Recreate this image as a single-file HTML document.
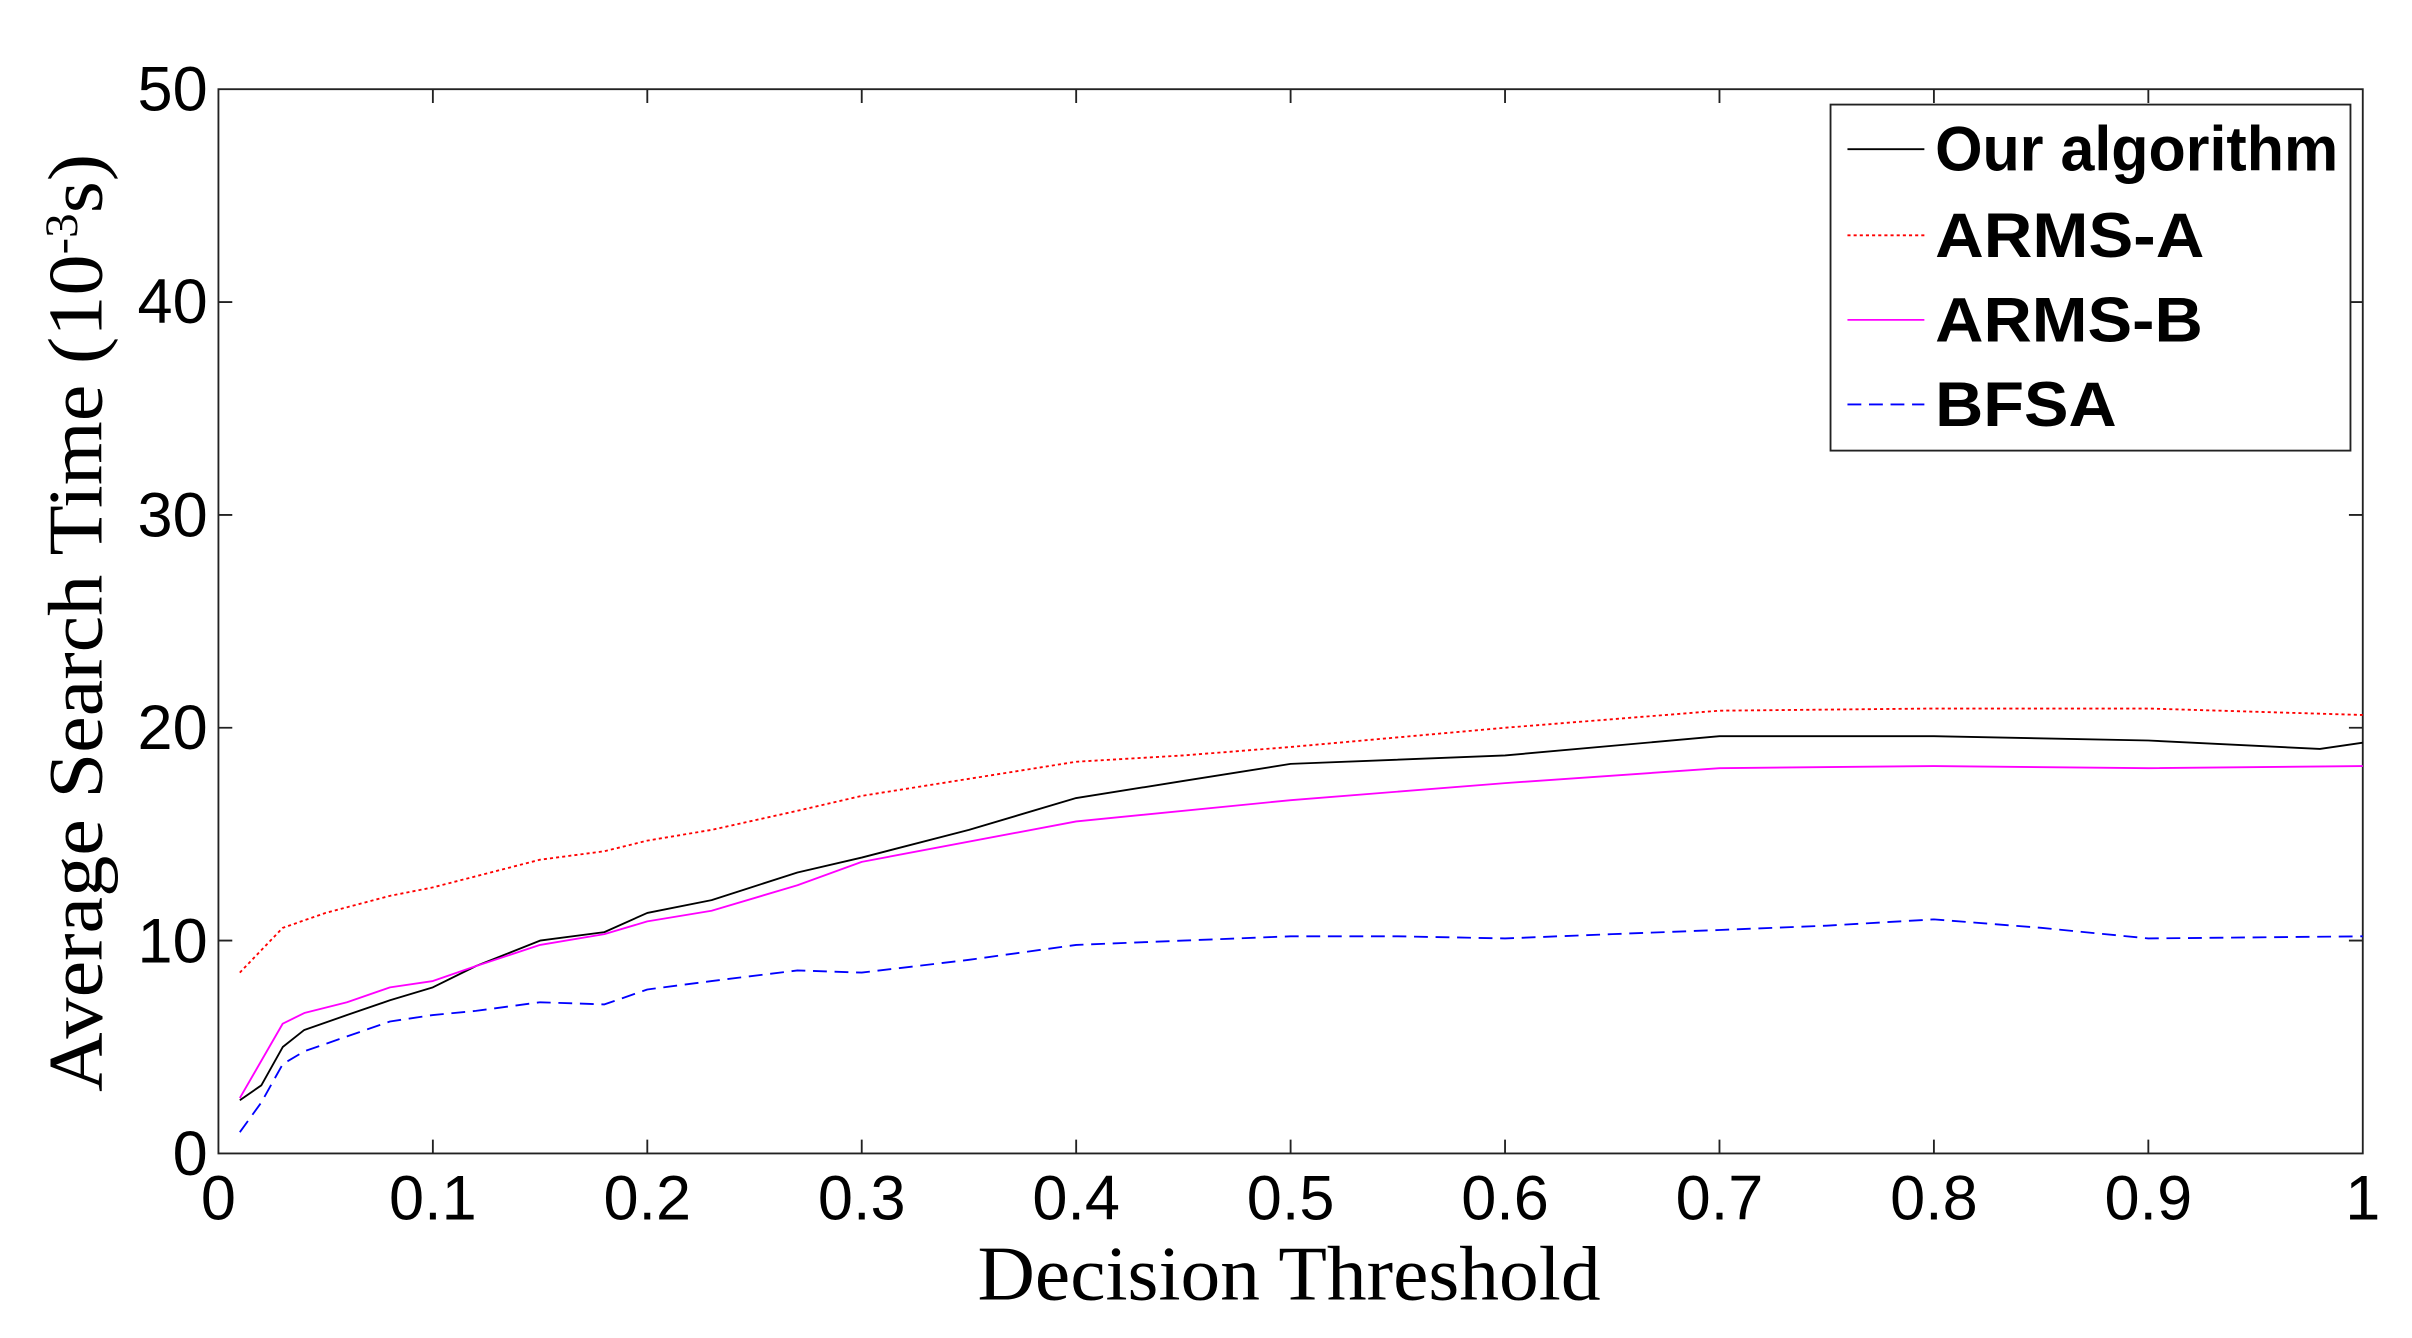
<!DOCTYPE html>
<html><head><meta charset="utf-8"><style>html,body{margin:0;padding:0;background:#fff}svg{display:block}</style></head>
<body>
<svg width="2412" height="1338" viewBox="0 0 1568 870" preserveAspectRatio="none" xmlns="http://www.w3.org/2000/svg">
<rect width="1568" height="870" fill="#fff"/>
<g stroke="#222" stroke-width="1.2" fill="none">
<rect x="142" y="58" width="1394" height="692"/>
<path d="M281.4 750v-9M420.8 750v-9M560.2 750v-9M699.6 750v-9M839 750v-9M978.4 750v-9M1117.8 750v-9M1257.2 750v-9M1396.6 750v-9
M281.4 58v9M420.8 58v9M560.2 58v9M699.6 58v9M839 58v9M978.4 58v9M1117.8 58v9M1257.2 58v9M1396.6 58v9
M142 611.6h9M142 473.2h9M142 334.8h9M142 196.4h9M1536 611.6h-9M1536 473.2h-9M1536 334.8h-9M1536 196.4h-9"/>
</g>
<g font-family="Liberation Sans, Arial, sans-serif" font-size="41" fill="#000" text-anchor="middle">
<text x="142" y="793">0</text><text x="281.4" y="793">0.1</text><text x="420.8" y="793">0.2</text><text x="560.2" y="793">0.3</text><text x="699.6" y="793">0.4</text><text x="839" y="793">0.5</text><text x="978.4" y="793">0.6</text><text x="1117.8" y="793">0.7</text><text x="1257.2" y="793">0.8</text><text x="1396.6" y="793">0.9</text><text x="1536" y="793">1</text>
</g>
<g font-family="Liberation Sans, Arial, sans-serif" font-size="41" fill="#000" text-anchor="end">
<text x="135" y="764">0</text><text x="135" y="626">10</text><text x="135" y="487">20</text><text x="135" y="349">30</text><text x="135" y="210">40</text><text x="135" y="72">50</text>
</g>
<text x="838" y="845" font-family="Liberation Serif, Times New Roman, serif" font-size="50" text-anchor="middle" textLength="405" lengthAdjust="spacingAndGlyphs">Decision Threshold</text>
<text transform="translate(66,405) rotate(-90)" font-family="Liberation Serif, Times New Roman, serif" font-size="50" text-anchor="middle" textLength="610" lengthAdjust="spacingAndGlyphs">Average Search Time (10<tspan font-size="30" dy="-16">-3</tspan><tspan dy="16">s)</tspan></text>
<g fill="none" stroke-width="1.2" stroke-linejoin="round">
<polyline id="k" stroke="#000" points=""/>
<polyline id="r" stroke="#f00" stroke-dasharray="2,2" points=""/>
<polyline id="m" stroke="#f0f" points=""/>
<polyline id="b" stroke="#00f" stroke-dasharray="9,5" points=""/>
</g>
<rect x="1190" y="68" width="338" height="225" fill="#fff" stroke="#222" stroke-width="1.2"/>
<g stroke-width="1.2">
<line x1="1201" y1="97" x2="1251" y2="97" stroke="#000"/>
<line x1="1201" y1="153" x2="1251" y2="153" stroke="#f00" stroke-dasharray="2,2"/>
<line x1="1201" y1="208" x2="1251" y2="208" stroke="#f0f"/>
<line x1="1201" y1="263" x2="1251" y2="263" stroke="#00f" stroke-dasharray="9,5"/>
</g>
<g font-family="Liberation Sans, Arial, sans-serif" font-size="41" font-weight="bold" fill="#000" lengthAdjust="spacingAndGlyphs">
<text x="1258" y="111" textLength="262" lengthAdjust="spacingAndGlyphs">Our algorithm</text><text x="1258" y="167" textLength="175" lengthAdjust="spacingAndGlyphs">ARMS-A</text><text x="1258" y="222" textLength="174" lengthAdjust="spacingAndGlyphs">ARMS-B</text><text x="1258" y="277" textLength="118" lengthAdjust="spacingAndGlyphs">BFSA</text>
</g>
<script>
const D={
k:[[0.01,2.5],[0.02,3.2],[0.03,5],[0.04,5.8],[0.06,6.5],[0.08,7.2],[0.1,7.8],[0.12,8.8],[0.15,10],[0.18,10.4],[0.2,11.3],[0.23,11.9],[0.27,13.2],[0.3,13.9],[0.35,15.2],[0.4,16.7],[0.45,17.5],[0.5,18.3],[0.6,18.7],[0.7,19.6],[0.75,19.6],[0.8,19.6],[0.9,19.4],[0.98,19],[1,19.3]],
r:[[0.01,8.5],[0.03,10.6],[0.05,11.3],[0.08,12.1],[0.1,12.5],[0.15,13.8],[0.18,14.2],[0.2,14.7],[0.23,15.2],[0.27,16.1],[0.3,16.8],[0.35,17.6],[0.4,18.4],[0.45,18.7],[0.5,19.1],[0.6,20],[0.7,20.8],[0.8,20.9],[0.9,20.9],[1,20.6]],
m:[[0.01,2.6],[0.03,6.1],[0.04,6.6],[0.06,7.1],[0.08,7.8],[0.1,8.1],[0.12,8.8],[0.15,9.8],[0.18,10.3],[0.2,10.9],[0.23,11.4],[0.27,12.6],[0.3,13.7],[0.4,15.6],[0.5,16.6],[0.6,17.4],[0.7,18.1],[0.8,18.2],[0.9,18.1],[1,18.2]],
b:[[0.01,1],[0.02,2.4],[0.03,4.2],[0.04,4.8],[0.06,5.5],[0.08,6.2],[0.1,6.5],[0.12,6.7],[0.15,7.1],[0.18,7],[0.2,7.7],[0.23,8.1],[0.27,8.6],[0.3,8.5],[0.35,9.1],[0.4,9.8],[0.45,10],[0.5,10.2],[0.55,10.2],[0.6,10.1],[0.65,10.3],[0.7,10.5],[0.75,10.7],[0.8,11],[0.85,10.6],[0.9,10.1],[1,10.2]]};
for(const k in D){document.getElementById(k).setAttribute('points',D[k].map(p=>(142+1394*p[0]).toFixed(1)+','+(750-13.84*p[1]).toFixed(1)).join(' '));}
</script>
</svg>
</body></html>
